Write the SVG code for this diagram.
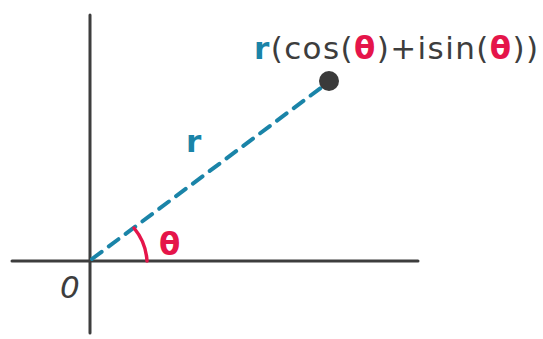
<svg xmlns="http://www.w3.org/2000/svg" width="543" height="339" viewBox="0 0 543 339">
<style>
.axis{stroke:#3d3d3d;stroke-width:3;stroke-linecap:round;fill:none}
.dash{stroke:#1a84a8;stroke-width:4;stroke-dasharray:12 9;stroke-linecap:round;fill:none}
.arc{stroke:#e5154a;stroke-width:3.5;fill:none;stroke-linecap:round}
.t{font-family:"DejaVu Sans","Liberation Sans",sans-serif;font-size:31px;fill:#3d3d3d}
.teal{fill:#1a84a8}
.red{fill:#e5154a}
</style>
<rect width="543" height="339" fill="#fff"/>
<g id="axes">
<line class="axis" x1="90" y1="15" x2="90" y2="333"/>
<line class="axis" x1="12" y1="261" x2="418" y2="261"/>
</g>
<g id="connectors">
<line class="dash" x1="92" y1="259" x2="322" y2="87"/>
<path class="arc" d="M134,228 A57,57 0 0 1 147,261"/>
</g>
<g id="point">
<circle cx="329" cy="81" r="10" fill="#3a3a3a"/>
</g>
<g id="origin-label"><text class="t" x="60" y="298" font-size="24" font-style="italic">0</text></g>
<g id="r-label"><text class="t teal" x="186" y="152" font-size="28" font-weight="bold">r</text></g>
<g id="theta-label"><text class="t red" x="159" y="255" font-size="32" font-weight="bold">θ</text></g>
<g id="formula">
<text class="t" x="254" y="59" textLength="284" lengthAdjust="spacing"><tspan class="teal" font-weight="bold">r</tspan>(cos(<tspan class="red" font-weight="bold">θ</tspan>)+isin(<tspan class="red" font-weight="bold">θ</tspan>))</text>
</g>
</svg>
